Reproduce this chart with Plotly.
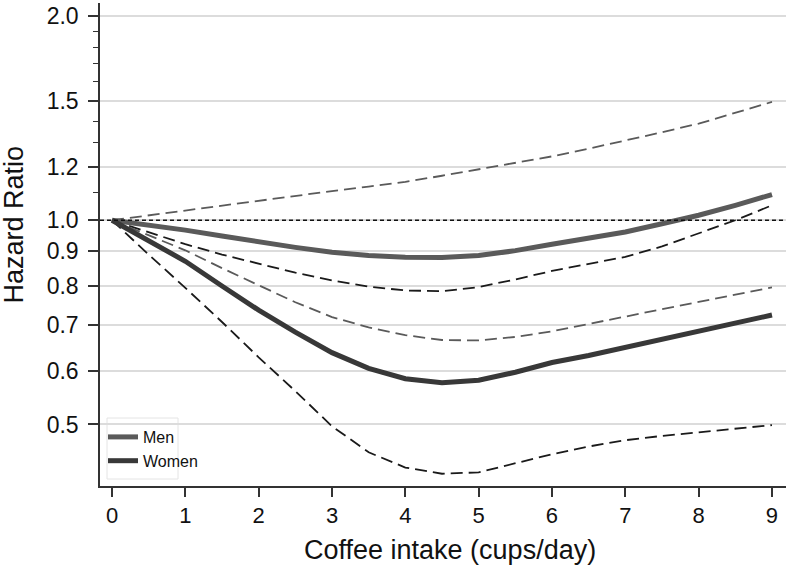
import plotly.graph_objects as go

# ---- data ----
cups = [0, 0.5, 1, 1.5, 2, 2.5, 3, 3.5, 4, 4.5, 5, 5.5, 6, 6.5, 7, 7.5, 8, 8.5, 9]

men_hr = [1.0, 0.984, 0.967, 0.948, 0.929, 0.912, 0.897, 0.887, 0.882, 0.881,
          0.887, 0.902, 0.922, 0.940, 0.961, 0.988, 1.017, 1.052, 1.091]
men_upper = [1.0, 1.017, 1.034, 1.052, 1.070, 1.087, 1.104, 1.121, 1.139, 1.163,
             1.189, 1.214, 1.242, 1.275, 1.310, 1.348, 1.388, 1.440, 1.494]
men_lower = [1.0, 0.960, 0.922, 0.890, 0.863, 0.837, 0.815, 0.798, 0.788, 0.786,
             0.797, 0.818, 0.842, 0.862, 0.883, 0.915, 0.956, 1.000, 1.052]

women_hr = [1.0, 0.933, 0.870, 0.800, 0.737, 0.684, 0.638, 0.605, 0.584, 0.576,
            0.581, 0.597, 0.617, 0.632, 0.650, 0.669, 0.688, 0.706, 0.725]
women_upper = [1.0, 0.950, 0.903, 0.850, 0.802, 0.757, 0.720, 0.695, 0.677, 0.666,
               0.665, 0.673, 0.686, 0.703, 0.720, 0.739, 0.758, 0.777, 0.796]
women_lower = [1.0, 0.890, 0.795, 0.708, 0.628, 0.560, 0.497, 0.455, 0.432, 0.423,
               0.425, 0.438, 0.452, 0.464, 0.474, 0.481, 0.487, 0.494, 0.499]

ref_hr = 1.0

x_ticks = [0, 1, 2, 3, 4, 5, 6, 7, 8, 9]
y_ticks = [0.5, 0.6, 0.7, 0.8, 0.9, 1.0, 1.2, 1.5, 2.0]
y_tick_labels = ["0.5", "0.6", "0.7", "0.8", "0.9", "1.0", "1.2", "1.5", "2.0"]
y_minor_ticks = [1.1, 1.3, 1.4, 1.6, 1.7, 1.8, 1.9]

FONT = "Liberation Sans, Arial, Helvetica, sans-serif"
GRAY = "#5a5a5a"
DARK = "#383838"
BLACK = "#1a1a1a"

fig = go.Figure()

# confidence limits
for y, col in [(men_upper, GRAY), (men_lower, BLACK),
               (women_upper, GRAY), (women_lower, BLACK)]:
    fig.add_trace(go.Scatter(x=cups, y=y, mode="lines", showlegend=False,
                             hoverinfo="skip",
                             line=dict(color=col, width=1.8, dash="12px,6px")))

# central estimates
fig.add_trace(go.Scatter(x=cups, y=men_hr, mode="lines", name="Men",
                         line=dict(color=GRAY, width=5)))
fig.add_trace(go.Scatter(x=cups, y=women_hr, mode="lines", name="Women",
                         line=dict(color=DARK, width=5)))

# reference line at HR = 1
fig.add_shape(type="line", xref="paper", x0=0, x1=1, yref="y", y0=ref_hr, y1=ref_hr,
              line=dict(color="#111111", width=1.6, dash="4px,3px"), layer="above")

# legend box
fig.add_shape(type="rect", xref="paper", yref="paper",
              x0=7 / 686, x1=78 / 686, y0=7 / 483, y1=68 / 483,
              line=dict(color="#e4e4e4", width=1), fillcolor="white", layer="between")

fig.update_layout(
    width=786, height=574,
    margin=dict(l=100, r=0, t=3, b=88),
    paper_bgcolor="white", plot_bgcolor="white",
    font=dict(family=FONT, color="#111111"),
    showlegend=True,
    legend=dict(x=3 / 686, y=66 / 483, xanchor="left", yanchor="top",
                bgcolor="rgba(0,0,0,0)", borderwidth=0,
                font=dict(size=16, family=FONT, color="#111111"),
                itemwidth=30, tracegroupgap=0),
    xaxis=dict(range=[-0.1636, 9.191], tickvals=x_ticks,
               ticks="outside", ticklen=9, tickwidth=1.5, tickcolor="#333333",
               showline=True, linecolor="#333333", linewidth=1.5,
               showgrid=False, zeroline=False,
               tickfont=dict(size=22, family=FONT, color="#111111")),
    yaxis=dict(type="log", range=[-0.3917, 0.3202],
               tickvals=y_ticks, ticktext=y_tick_labels,
               ticks="outside", ticklen=10, tickwidth=1.5, tickcolor="#333333",
               ticklabelstandoff=5,
               showline=True, linecolor="#333333", linewidth=1.5,
               showgrid=True, gridcolor="#dcdcdc", gridwidth=1.5,
               zeroline=False,
               tickfont=dict(size=23, family=FONT, color="#111111"),
               minor=dict(tickvals=y_minor_ticks, ticks="outside", ticklen=5,
                          tickwidth=1.2, tickcolor="#333333", showgrid=False)),
    annotations=[
        dict(text="Hazard Ratio", textangle=-90, xref="paper", yref="paper",
             x=(13.5 - 100) / 686, y=(486 - 225) / 483,
             xanchor="center", yanchor="middle", showarrow=False,
             font=dict(size=27, family=FONT, color="#111111")),
        dict(text="Coffee intake (cups/day)", xref="paper", yref="paper",
             x=(450 - 100) / 686, y=(486 - 550) / 483,
             xanchor="center", yanchor="middle", showarrow=False,
             font=dict(size=27, family=FONT, color="#111111")),
    ],
)

fig.write_html("out.html", config={"displayModeBar": False},
               post_script="document.body.style.margin='0';document.body.style.overflow='hidden';")
